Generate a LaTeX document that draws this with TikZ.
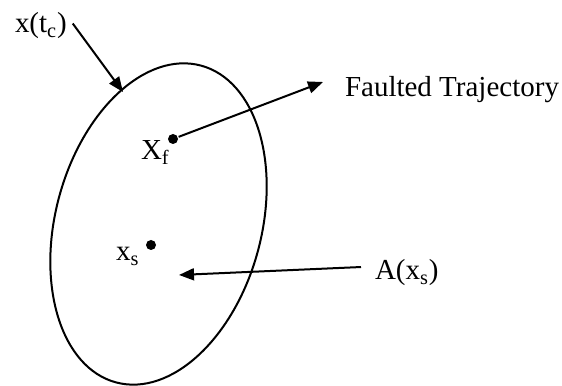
\documentclass[tikz,border=0pt]{standalone}
\usepackage{fontspec}
\setmainfont{Liberation Serif}
\usetikzlibrary{arrows.meta,positioning}

\begin{document}
\begin{tikzpicture}[>={Triangle[length=0.3cm,width=0.24cm]}, line width=0.04cm, font=\fontsize{16.5}{20}\selectfont]
    \useasboundingbox (0,0) rectangle (11.24,7.72);

    % Region
    \draw [rotate around={-15:(3.17,3.24)}] (3.17,3.24) ellipse (2.06cm and 3.28cm);

    % Nodes
    \node (xf) [circle, fill, inner sep=0, minimum size=0.2cm] at (3.46,4.94) {};
    \node (xs) [circle, fill, inner sep=0, minimum size=0.2cm] at (3.02,2.82) {};
    \node (xflabel) [anchor=base west, inner sep=0] at (2.80,4.52) {X\textsubscript{f}};
    \node (xslabel) [anchor=base west, inner sep=0] at (2.30,2.50) {x\textsubscript{s}};
    \node (xtc) [anchor=base west, inner sep=0] at (0.28,7.06) {x(t\textsubscript{c})};
    \node (ftraj) [anchor=base west, inner sep=0] at (6.88,5.78) {Faulted Trajectory};
    \node (axs) [anchor=base west, inner sep=0] at (7.48,2.12) {A(x\textsubscript{s})};

    % Arrow ends
    \coordinate (ctip) at (2.46,5.88);
    \coordinate (ftip) at (6.46,6.08);
    \coordinate (atip) at (3.58,2.22);

    % Arrows
    \draw [->] ([xshift=0.1cm, yshift=0.05cm]xtc.east) -- (ctip);
    \draw [->] (xf) -- (ftip);
    \draw [->] ([xshift=-0.26cm, yshift=0.12cm]axs.west) -- (atip);
\end{tikzpicture}
\end{document}
